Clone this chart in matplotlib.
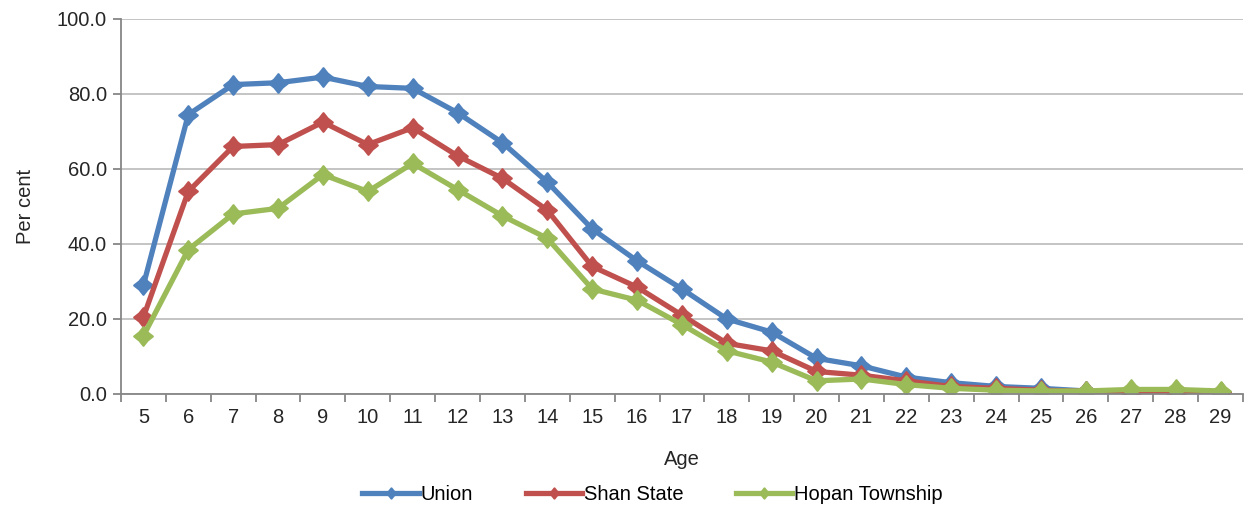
import numpy as np
import matplotlib
matplotlib.use('Agg')
import matplotlib.pyplot as plt
from matplotlib.path import Path

plt.rcParams['font.family'] = ['Liberation Sans', 'DejaVu Sans']

ages = list(range(5, 30))
union = [29.0, 74.5, 82.5, 83.0, 84.5, 82.0, 81.5, 75.0, 67.0, 56.5, 44.0, 35.5,
         28.0, 20.0, 16.5, 9.5, 7.5, 4.5, 3.0, 2.0, 1.5, 0.8, 0.5, 0.5, 0.5]
shan = [20.5, 54.0, 66.0, 66.5, 72.5, 66.5, 71.0, 63.5, 57.5, 49.0, 34.0, 28.5,
        21.0, 13.5, 11.5, 6.0, 5.0, 3.5, 2.0, 1.5, 1.0, 0.7, 0.3, 0.3, 0.5]
hopan = [15.5, 38.5, 48.0, 49.5, 58.5, 54.0, 61.5, 54.5, 47.5, 41.5, 28.0, 25.0,
         18.5, 11.5, 8.5, 3.5, 4.0, 2.5, 1.5, 1.0, 0.8, 0.8, 1.2, 1.2, 0.8]

series = [
    ('Union', union, '#4F81BD'),
    ('Shan State', shan, '#C0504D'),
    ('Hopan Township', hopan, '#9BBB59'),
]

# diamond with slightly pinched sides
k = 0.44
star = Path([(0, 1), (k, k), (1, 0), (k, -k), (0, -1), (-k, -k), (-1, 0), (-k, k), (0, 1)],
            [Path.MOVETO] + [Path.LINETO] * 7 + [Path.CLOSEPOLY])

fig = plt.figure(figsize=(12.6, 5.09), dpi=100)
ax = fig.add_axes([0.096, 0.226, 0.8905, 0.7367])

x = np.arange(len(ages))
for name, vals, color in series:
    ax.plot(x, vals, color=color, linewidth=3.8, marker=star, markersize=13.5,
            markeredgecolor=color, markeredgewidth=1.5, label=name)

axis_color = '#868686'
ax.set_xlim(-0.5, len(ages) - 0.5)
ax.set_ylim(0, 100)
ax.set_yticks(np.arange(0, 101, 20))
ax.set_yticklabels([f'{v:.1f}' for v in range(0, 101, 20)])
ax.yaxis.grid(True, color='#BFBFBF', linewidth=1.3)
ax.set_axisbelow(True)

# category labels centred, tick marks on the boundaries between categories
ax.set_xticks(x)
ax.set_xticklabels([str(a) for a in ages])
ax.set_xticks(np.arange(-0.5, len(ages)), minor=True)
ax.tick_params(axis='x', which='major', length=0, pad=10)
ax.tick_params(axis='x', which='minor', length=6, color=axis_color, width=1.3)
ax.tick_params(axis='y', length=6, color=axis_color, width=1.3, pad=4)
ax.tick_params(labelsize=14.5, labelcolor='#262626')

for side in ['top', 'right']:
    ax.spines[side].set_visible(False)
for side in ['left', 'bottom']:
    ax.spines[side].set_color(axis_color)
    ax.spines[side].set_linewidth(1.3)

ax.set_xlabel('Age', fontsize=14.5, color='#262626', labelpad=17)
ax.set_ylabel('Per cent', fontsize=14.5, color='#262626', labelpad=16)

fig.legend(loc='lower center', bbox_to_anchor=(0.518, -0.025), ncol=3,
           frameon=False, fontsize=14.5, handlelength=2.8, columnspacing=2.6,
           handletextpad=0.1, markerscale=0.55)

fig.savefig('out.png', dpi=100)
plt.close(fig)
